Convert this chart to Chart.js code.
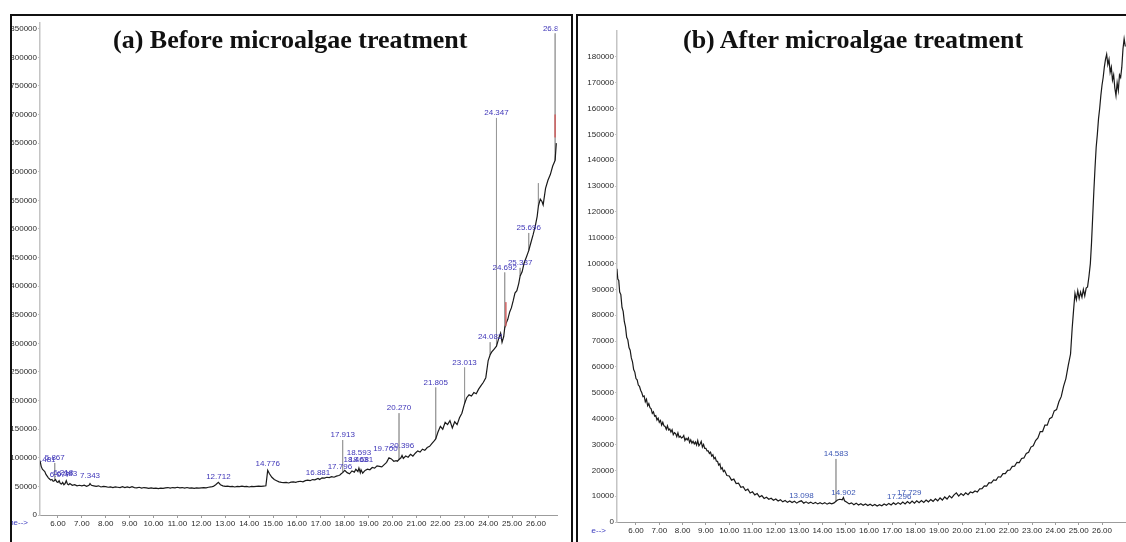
<!DOCTYPE html>
<html>
<head>
<meta charset="utf-8">
<script src="https://cdn.jsdelivr.net/npm/chart.js@4.4.1/dist/chart.umd.min.js"></script>
<style>
  html, body { margin: 0; padding: 0; background: #fff; }
  body { width: 1126px; height: 542px; position: relative; overflow: hidden; }
  canvas { position: absolute; top: 0; }
  #cA { left: 0; }
  #cB { left: 576px; }
  .rule { position: absolute; background: #111; z-index: 5; }
  .title { position: absolute; z-index: 6; font-family: "Liberation Serif", "Times New Roman", serif;
           font-weight: bold; font-size: 26px; line-height: 26px; white-space: nowrap; color: #111; }
  .axisname { position: absolute; z-index: 4; overflow: hidden; height: 12px; }
  .axisname span { position: absolute; right: 0; top: 0; font: 8px "Liberation Sans", Arial, sans-serif;
                   line-height: 12px; color: #3b3bbf; white-space: nowrap; }
</style>
</head>
<body>
<canvas id="cA" width="572" height="542"></canvas>
<canvas id="cB" width="550" height="542"></canvas>

<div class="rule" style="left:10px;top:14px;width:563px;height:2px"></div>
<div class="rule" style="left:10px;top:14px;width:2px;height:528px"></div>
<div class="rule" style="left:571px;top:14px;width:2px;height:528px"></div>
<div class="rule" style="left:576px;top:14px;width:550px;height:2px"></div>
<div class="rule" style="left:576px;top:14px;width:2px;height:528px"></div>

<div class="title" style="left:113px;top:27px">(a) Before microalgae treatment</div>
<div class="title" style="left:683px;top:27px">(b) After microalgae treatment</div>

<div class="axisname" style="left:12px;top:517px;width:16px"><span>Time--&gt;</span></div>
<div class="axisname" style="left:591px;top:525px;width:15px"><span>Time--&gt;</span></div>

<script>
// ---------- Panel (a): before treatment ----------
const timeA = [
  5.25, 5.30, 5.35, 5.40, 5.45, 5.50, 5.55, 5.60, 5.65, 5.70, 5.75, 5.80, 5.85, 5.867, 5.90, 5.95,
  6.00, 6.05, 6.10, 6.15, 6.20, 6.25, 6.30, 6.35, 6.40, 6.45, 6.50, 6.60, 6.70, 6.80, 6.90,
  7.00, 7.10, 7.20, 7.30, 7.343, 7.40, 7.50, 7.60, 7.70, 7.80, 7.90,
  8.00, 8.10, 8.20, 8.30, 8.40, 8.50, 8.60, 8.70, 8.80, 8.90,
  9.00, 9.10, 9.20, 9.30, 9.40, 9.50, 9.60, 9.70, 9.80, 9.90,
  10.00, 10.10, 10.20, 10.30, 10.40, 10.50, 10.60, 10.70, 10.80, 10.90,
  11.00, 11.10, 11.20, 11.30, 11.40, 11.50, 11.60, 11.70, 11.80, 11.90,
  12.00, 12.10, 12.20, 12.30, 12.40, 12.50, 12.60, 12.712, 12.80, 12.90,
  13.00, 13.10, 13.20, 13.30, 13.40, 13.50, 13.60, 13.70, 13.80, 13.90,
  14.00, 14.10, 14.20, 14.30, 14.40, 14.50, 14.60, 14.70, 14.776, 14.85, 14.95,
  15.05, 15.15, 15.25, 15.35, 15.45, 15.55, 15.65, 15.75, 15.85, 15.95,
  16.05, 16.15, 16.25, 16.35, 16.45, 16.55, 16.65, 16.75, 16.881, 16.95,
  17.05, 17.15, 17.25, 17.35, 17.45, 17.55, 17.65, 17.75, 17.796, 17.85, 17.913,
  18.00, 18.10, 18.20, 18.30, 18.40, 18.463, 18.55, 18.593, 18.65, 18.681, 18.75, 18.85, 18.95,
  19.05, 19.15, 19.25, 19.35, 19.45, 19.55, 19.65, 19.75, 19.85, 19.95,
  20.05, 20.15, 20.20, 20.270, 20.35, 20.396, 20.45, 20.55, 20.65, 20.75, 20.85, 20.95,
  21.05, 21.15, 21.25, 21.35, 21.45, 21.55, 21.65, 21.75, 21.805, 21.90,
  22.00, 22.10, 22.20, 22.30, 22.40, 22.50, 22.60, 22.70, 22.80, 22.90,
  23.013, 23.10, 23.20, 23.30, 23.40, 23.50, 23.60, 23.70, 23.80, 23.90,
  24.00, 24.082, 24.15, 24.25, 24.347, 24.45, 24.52, 24.58, 24.65, 24.692, 24.75, 24.82, 24.90, 24.97,
  25.05, 25.12, 25.20, 25.28, 25.337, 25.42, 25.50, 25.60, 25.696, 25.78, 25.88, 25.97,
  26.05, 26.10, 26.18, 26.25, 26.30, 26.40, 26.50, 26.60, 26.70, 26.75, 26.80, 26.85
];
const signalA = [
  95000, 85000, 80000, 78000, 76000, 71000, 68000, 65000, 63000, 61000, 62000, 59000, 60000, 60000, 62000, 58000,
  57000, 60000, 55000, 54000, 57000, 53000, 55000, 60000, 54000, 53000, 55000, 52000, 53000, 51000, 52000,
  51000, 52000, 50000, 52000, 55000, 52000, 51000, 50000, 51000, 49000, 50000,
  49500, 48500, 49000, 48000, 49000, 48500, 48000, 49500, 48000, 49000,
  48000, 49500, 48000, 47500, 48500, 47000, 48000, 47500, 46500, 47500,
  46500, 47000, 46000, 47000, 46500, 47500, 48000, 47000, 48000, 47500,
  48500, 47500, 48000, 47000, 48000, 47000, 47500, 46500, 47500, 47000,
  47500, 48000, 47500, 48500, 49000, 50000, 53000, 57000, 53000, 51000,
  50000, 50500, 49500, 50000, 49000, 50000, 49500, 50500, 49500, 50000,
  49000, 50000, 49500, 50000, 50500, 50000, 50500, 51000, 78000, 72000, 66000,
  62000, 60000, 58000, 57000, 56500, 57000, 56000, 57500, 58000, 57000,
  58500, 59000, 58000, 60000, 61000, 60000, 62000, 61500, 64000, 62000,
  65000, 64500, 66000, 65500, 67000, 66000, 68000, 69000, 70000, 72000, 74000,
  78000, 74000, 72000, 77000, 75000, 80000, 76000, 82000, 74000, 79000, 73000, 78000, 80000,
  79000, 83000, 82000, 86000, 85000, 84000, 88000, 92000, 100000, 98000,
  94000, 95000, 94000, 97000, 100000, 104000, 99000, 103000, 101000, 106000, 103000, 108000,
  112000, 110000, 115000, 113000, 118000, 120000, 125000, 130000, 133000, 145000,
  155000, 150000, 162000, 158000, 165000, 152000, 163000, 158000, 170000, 178000,
  195000, 205000, 210000, 208000, 214000, 212000, 220000, 226000, 232000, 240000,
  270000, 280000, 285000, 290000, 295000, 310000, 318000, 302000, 312000, 327000, 335000, 342000, 355000, 362000,
  375000, 388000, 392000, 405000, 418000, 425000, 440000, 451000, 462000, 475000, 490000, 505000,
  522000, 540000, 552000, 548000, 542000, 571000, 585000, 595000, 610000, 615000, 620000, 650000
];
// narrow peaks drawn as vertical strokes from the trace
const peakTimesA = [5.867, 17.913, 20.270, 21.805, 23.013, 24.082, 24.347, 24.692, 25.337, 25.696, 26.10, 26.800];
const peakBasesA = [60000, 74000, 97000, 133000, 195000, 280000, 295000, 327000, 418000, 462000, 540000, 620000];
const peakTopsA  = [91000, 131000, 178000, 223000, 258000, 302000, 694000, 424000, 432000, 493000, 580000, 842000];
// integration markers
const markTimesA = [24.74, 26.80];
const markLowA   = [330000, 660000];
const markHighA  = [372000, 700000];
// retention-time annotations
const labelTimesA  = [5.481, 5.867, 6.077, 6.218, 6.383, 7.343, 12.712, 14.776, 16.881, 17.796, 17.913,
                      18.463, 18.593, 18.681, 19.700, 20.270, 20.396, 21.805, 23.013, 24.082, 24.347,
                      24.692, 25.337, 25.696, 26.800];
const labelLevelsA = [87000, 91000, 61000, 64700, 63000, 59400, 57700, 80400, 64700, 75200, 131000,
                      87400, 99600, 87400, 106600, 178000, 111900, 223000, 258000, 302000, 694000,
                      424000, 432000, 493000, 842000];
const yTicksA = [0, 50000, 100000, 150000, 200000, 250000, 300000, 350000, 400000, 450000, 500000,
                 550000, 600000, 650000, 700000, 750000, 800000, 850000];

// ---------- Panel (b): after treatment ----------
const timeB = [
  5.18, 5.22, 5.26, 5.30, 5.35, 5.40, 5.45, 5.50, 5.55, 5.60, 5.65, 5.70, 5.75, 5.80, 5.85, 5.90, 5.95,
  6.00, 6.05, 6.10, 6.15, 6.20, 6.25, 6.30, 6.35, 6.40, 6.45, 6.50, 6.55, 6.60, 6.65, 6.70, 6.75, 6.80, 6.85, 6.90, 6.95,
  7.00, 7.05, 7.10, 7.15, 7.20, 7.25, 7.30, 7.35, 7.40, 7.45, 7.50, 7.55, 7.60, 7.65, 7.70, 7.75, 7.80, 7.85, 7.90, 7.95,
  8.00, 8.05, 8.10, 8.15, 8.20, 8.25, 8.30, 8.35, 8.40, 8.45, 8.50, 8.55, 8.60, 8.65, 8.70, 8.75, 8.80, 8.85, 8.90, 8.95,
  9.00, 9.05, 9.10, 9.15, 9.20, 9.25, 9.30, 9.35, 9.40, 9.45, 9.50, 9.55, 9.60, 9.65, 9.70, 9.75, 9.80, 9.90,
  10.00, 10.10, 10.20, 10.30, 10.40, 10.50, 10.60, 10.70, 10.80, 10.90,
  11.00, 11.10, 11.20, 11.30, 11.40, 11.50, 11.60, 11.70, 11.80, 11.90,
  12.00, 12.10, 12.20, 12.30, 12.40, 12.50, 12.60, 12.70, 12.80, 12.90,
  13.00, 13.098, 13.20, 13.30, 13.40, 13.50, 13.60, 13.70, 13.80, 13.90,
  14.00, 14.10, 14.20, 14.30, 14.40, 14.50, 14.583, 14.65, 14.75, 14.85, 14.902, 14.95,
  15.05, 15.15, 15.25, 15.35, 15.45, 15.55, 15.65, 15.75, 15.85, 15.95,
  16.05, 16.15, 16.25, 16.35, 16.45, 16.55, 16.65, 16.75, 16.85, 16.95,
  17.05, 17.15, 17.25, 17.35, 17.45, 17.55, 17.65, 17.75, 17.85, 17.95,
  18.05, 18.15, 18.25, 18.35, 18.45, 18.55, 18.65, 18.75, 18.85, 18.95,
  19.05, 19.15, 19.25, 19.35, 19.45, 19.55, 19.65, 19.75, 19.85, 19.95,
  20.05, 20.15, 20.25, 20.35, 20.45, 20.55, 20.65, 20.75, 20.85, 20.95,
  21.05, 21.15, 21.25, 21.35, 21.45, 21.55, 21.65, 21.75, 21.85, 21.95,
  22.05, 22.15, 22.25, 22.35, 22.45, 22.55, 22.65, 22.75, 22.85, 22.95,
  23.05, 23.15, 23.25, 23.35, 23.45, 23.55, 23.65, 23.75, 23.85, 23.95,
  24.05, 24.15, 24.25, 24.35, 24.45, 24.55, 24.65, 24.72, 24.78, 24.84, 24.90, 24.96,
  25.02, 25.08, 25.14, 25.20, 25.26, 25.32, 25.38, 25.44, 25.50, 25.55, 25.60, 25.65, 25.70, 25.75, 25.80, 25.85, 25.90, 25.95,
  26.00, 26.05, 26.10, 26.15, 26.20, 26.25, 26.30, 26.35, 26.40, 26.45, 26.50, 26.55, 26.60, 26.65, 26.70, 26.75, 26.80, 26.85, 26.90, 26.95, 27.00
];
const signalB = [
  98000, 94000, 93500, 89000, 88000, 83000, 81500, 77500, 75500, 71500, 70500, 67500, 66500, 63500, 62000, 59000, 58000,
  55500, 55000, 53000, 52500, 51000, 50000, 48500, 48800, 46500, 47500, 45000, 45800, 44200, 43800, 42000, 42600, 41000, 41200, 39500, 40200,
  38600, 39300, 37500, 38600, 37200, 37000, 35800, 37200, 35600, 36000, 34800, 35700, 33800, 34600, 34200, 33000, 34500, 32800, 33200, 32500,
  32800, 33500, 31500, 32400, 31800, 32600, 30800, 31800, 30500, 31200, 30200, 31000, 29800, 31500, 29500, 30200, 31200, 29000, 30000, 28500,
  28500, 27500, 27500, 26500, 27000, 25500, 26000, 24500, 25000, 23500, 23500, 22000, 22500, 20500, 21000, 19500, 20000, 18000,
  17800, 16200, 16600, 14900, 15000, 13400, 13700, 12200, 12700, 11200,
  11700, 10500, 11000, 9700, 10200, 9100, 9600, 8800, 9200, 8400,
  8900, 8100, 8600, 7800, 8300, 7600, 8100, 7500, 8000, 7300,
  7900, 8200, 7300, 7800, 7200, 7700, 7100, 7600, 7000, 7500,
  7000, 7500, 6900, 7400, 7000, 7400, 8000, 8500, 8800, 8600, 9500, 8200,
  7600, 7000, 7400, 6700, 7300, 6600, 7100, 6500, 7000, 6400,
  6900, 6300, 6800, 6200, 6700, 6300, 7000, 6500, 7200, 6600,
  7400, 6800, 7500, 6900, 7700, 7000, 7900, 7200, 8100, 7300,
  8200, 7500, 8300, 7600, 8500, 7800, 8700, 8000, 9000, 8200,
  9300, 8500, 9700, 8900, 10100, 9300, 10500, 11300, 10000, 11000,
  10300, 11300, 10600, 11600, 11300, 12000, 11600, 12800, 12900, 14000,
  13900, 15200, 15100, 16300, 16100, 17500, 17400, 18700, 18700, 20000,
  20100, 21500, 21600, 23100, 23000, 24600, 24800, 26500, 27000, 29000,
  29500, 31500, 32500, 35000, 35000, 37500, 37500, 40000, 40500, 43000,
  43500, 46500, 48500, 52500, 55500, 60500, 65000, 75000, 82000, 88500, 86000, 89500,
  86500, 89000, 87000, 90000, 87500, 90500, 91000, 95000, 100000, 108000, 118000, 128000, 137000, 145000, 150000, 156000, 160000, 165000,
  169000, 172000, 176000, 179000, 181000, 177000, 179000, 174000, 176000, 171000, 173000, 168000, 165000, 170000, 167000, 173000, 172000, 176000, 183000, 187000, 184000
];
const peakTimesB = [14.583];
const peakBasesB = [8000];
const peakTopsB  = [24400];
const labelTimesB  = [13.098, 14.583, 14.902, 17.296, 17.729];
const labelLevelsB = [8100, 24400, 9300, 7700, 9300];
const yTicksB = [0, 10000, 20000, 30000, 40000, 50000, 60000, 70000, 80000, 90000, 100000,
                 110000, 120000, 130000, 140000, 150000, 160000, 170000, 180000];

// shared time axis ticks (minutes)
const xTicks = [6, 7, 8, 9, 10, 11, 12, 13, 14, 15, 16, 17, 18, 19, 20, 21, 22, 23, 24, 25, 26];

// ---------- helpers ----------
function tracePoints(ts, vs) {
  return ts.map((t, i) => ({ x: t, y: vs[i] }));
}
function strokePoints(ts, lows, highs) {
  const pts = [];
  ts.forEach((t, i) => {
    pts.push({ x: t, y: lows[i] }, { x: t, y: highs[i] }, { x: t, y: lows[i] }, { x: t, y: null });
  });
  return pts;
}

const peakLabels = {
  id: 'peakLabels',
  afterDatasetsDraw(chart, args, opts) {
    const { ctx, chartArea, scales } = chart;
    ctx.save();
    ctx.beginPath();
    ctx.rect(chartArea.left, chartArea.top - 12, chartArea.width, chartArea.height + 12);
    ctx.clip();
    ctx.font = '8px "Liberation Sans", Arial, sans-serif';
    ctx.fillStyle = opts.color;
    ctx.textAlign = 'center';
    ctx.textBaseline = 'bottom';
    opts.times.forEach((t, i) => {
      ctx.fillText(t.toFixed(3), scales.x.getPixelForValue(t), scales.y.getPixelForValue(opts.levels[i]) - 1);
    });
    ctx.restore();
  }
};

function makeChart(canvasId, cfg) {
  const datasets = [
    { data: strokePoints(cfg.peakTimes, cfg.peakBases, cfg.peakTops), borderColor: '#9a9a9a',
      borderWidth: 1, pointRadius: 0, spanGaps: false, tension: 0, order: 2 },
    { data: tracePoints(cfg.times, cfg.signal), borderColor: '#1a1a1a', borderWidth: 1.2,
      pointRadius: 0, tension: 0, order: 1 }
  ];
  if (cfg.markTimes) {
    datasets.push({ data: strokePoints(cfg.markTimes, cfg.markLow, cfg.markHigh), borderColor: '#d06060',
      borderWidth: 1, pointRadius: 0, spanGaps: false, tension: 0, order: 0 });
  }
  return new Chart(document.getElementById(canvasId), {
    type: 'line',
    data: { datasets },
    plugins: [peakLabels],
    options: {
      responsive: false,
      animation: false,
      events: [],
      layout: { padding: cfg.padding },
      plugins: {
        legend: { display: false },
        tooltip: { enabled: false },
        title: { display: false },
        peakLabels: { times: cfg.labelTimes, levels: cfg.labelLevels, color: cfg.labelColor }
      },
      scales: {
        x: {
          type: 'linear', min: cfg.xMin, max: cfg.xMax,
          afterBuildTicks: s => { s.ticks = xTicks.map(v => ({ value: v })); },
          afterFit: s => { s.height = 20; },
          border: { display: true, color: '#9c9c9c', width: 1, dash: [2, 2] },
          grid: { drawOnChartArea: false, drawTicks: true, tickLength: 3, color: '#9c9c9c' },
          ticks: { maxRotation: 0, autoSkip: false, padding: 1, color: '#2a2a2a',
                   font: { family: '"Liberation Sans", Arial, sans-serif', size: 8 },
                   callback: v => Number(v).toFixed(2) }
        },
        y: {
          type: 'linear', min: 0, max: cfg.yMax,
          afterBuildTicks: s => { s.ticks = cfg.yTicks.map(v => ({ value: v })); },
          afterFit: s => { s.width = cfg.yWidth; },
          border: { display: true, color: '#c4c4c4', width: 1.5 },
          grid: { drawOnChartArea: false, drawTicks: true, tickLength: 2, color: '#c4c4c4' },
          ticks: { autoSkip: false, padding: 1, color: '#2a2a2a',
                   font: { family: '"Liberation Sans", Arial, sans-serif', size: 8 },
                   callback: v => String(v) }
        }
      }
    }
  });
}

makeChart('cA', {
  times: timeA, signal: signalA,
  peakTimes: peakTimesA, peakBases: peakBasesA, peakTops: peakTopsA,
  markTimes: markTimesA, markLow: markLowA, markHigh: markHighA,
  labelTimes: labelTimesA, labelLevels: labelLevelsA, labelColor: '#3f36b8',
  yTicks: yTicksA, yMax: 860000, xMin: 5.25, xMax: 26.9, yWidth: 40,
  padding: { left: 0, right: 14.5, top: 23, bottom: 7 }
});

makeChart('cB', {
  times: timeB, signal: signalB,
  peakTimes: peakTimesB, peakBases: peakBasesB, peakTops: peakTopsB,
  labelTimes: labelTimesB, labelLevels: labelLevelsB, labelColor: '#3a56b4',
  yTicks: yTicksB, yMax: 190000, xMin: 5.185, xMax: 27.03, yWidth: 41,
  padding: { left: 0, right: 0, top: 31, bottom: 0 }
});
</script>
</body>
</html>
